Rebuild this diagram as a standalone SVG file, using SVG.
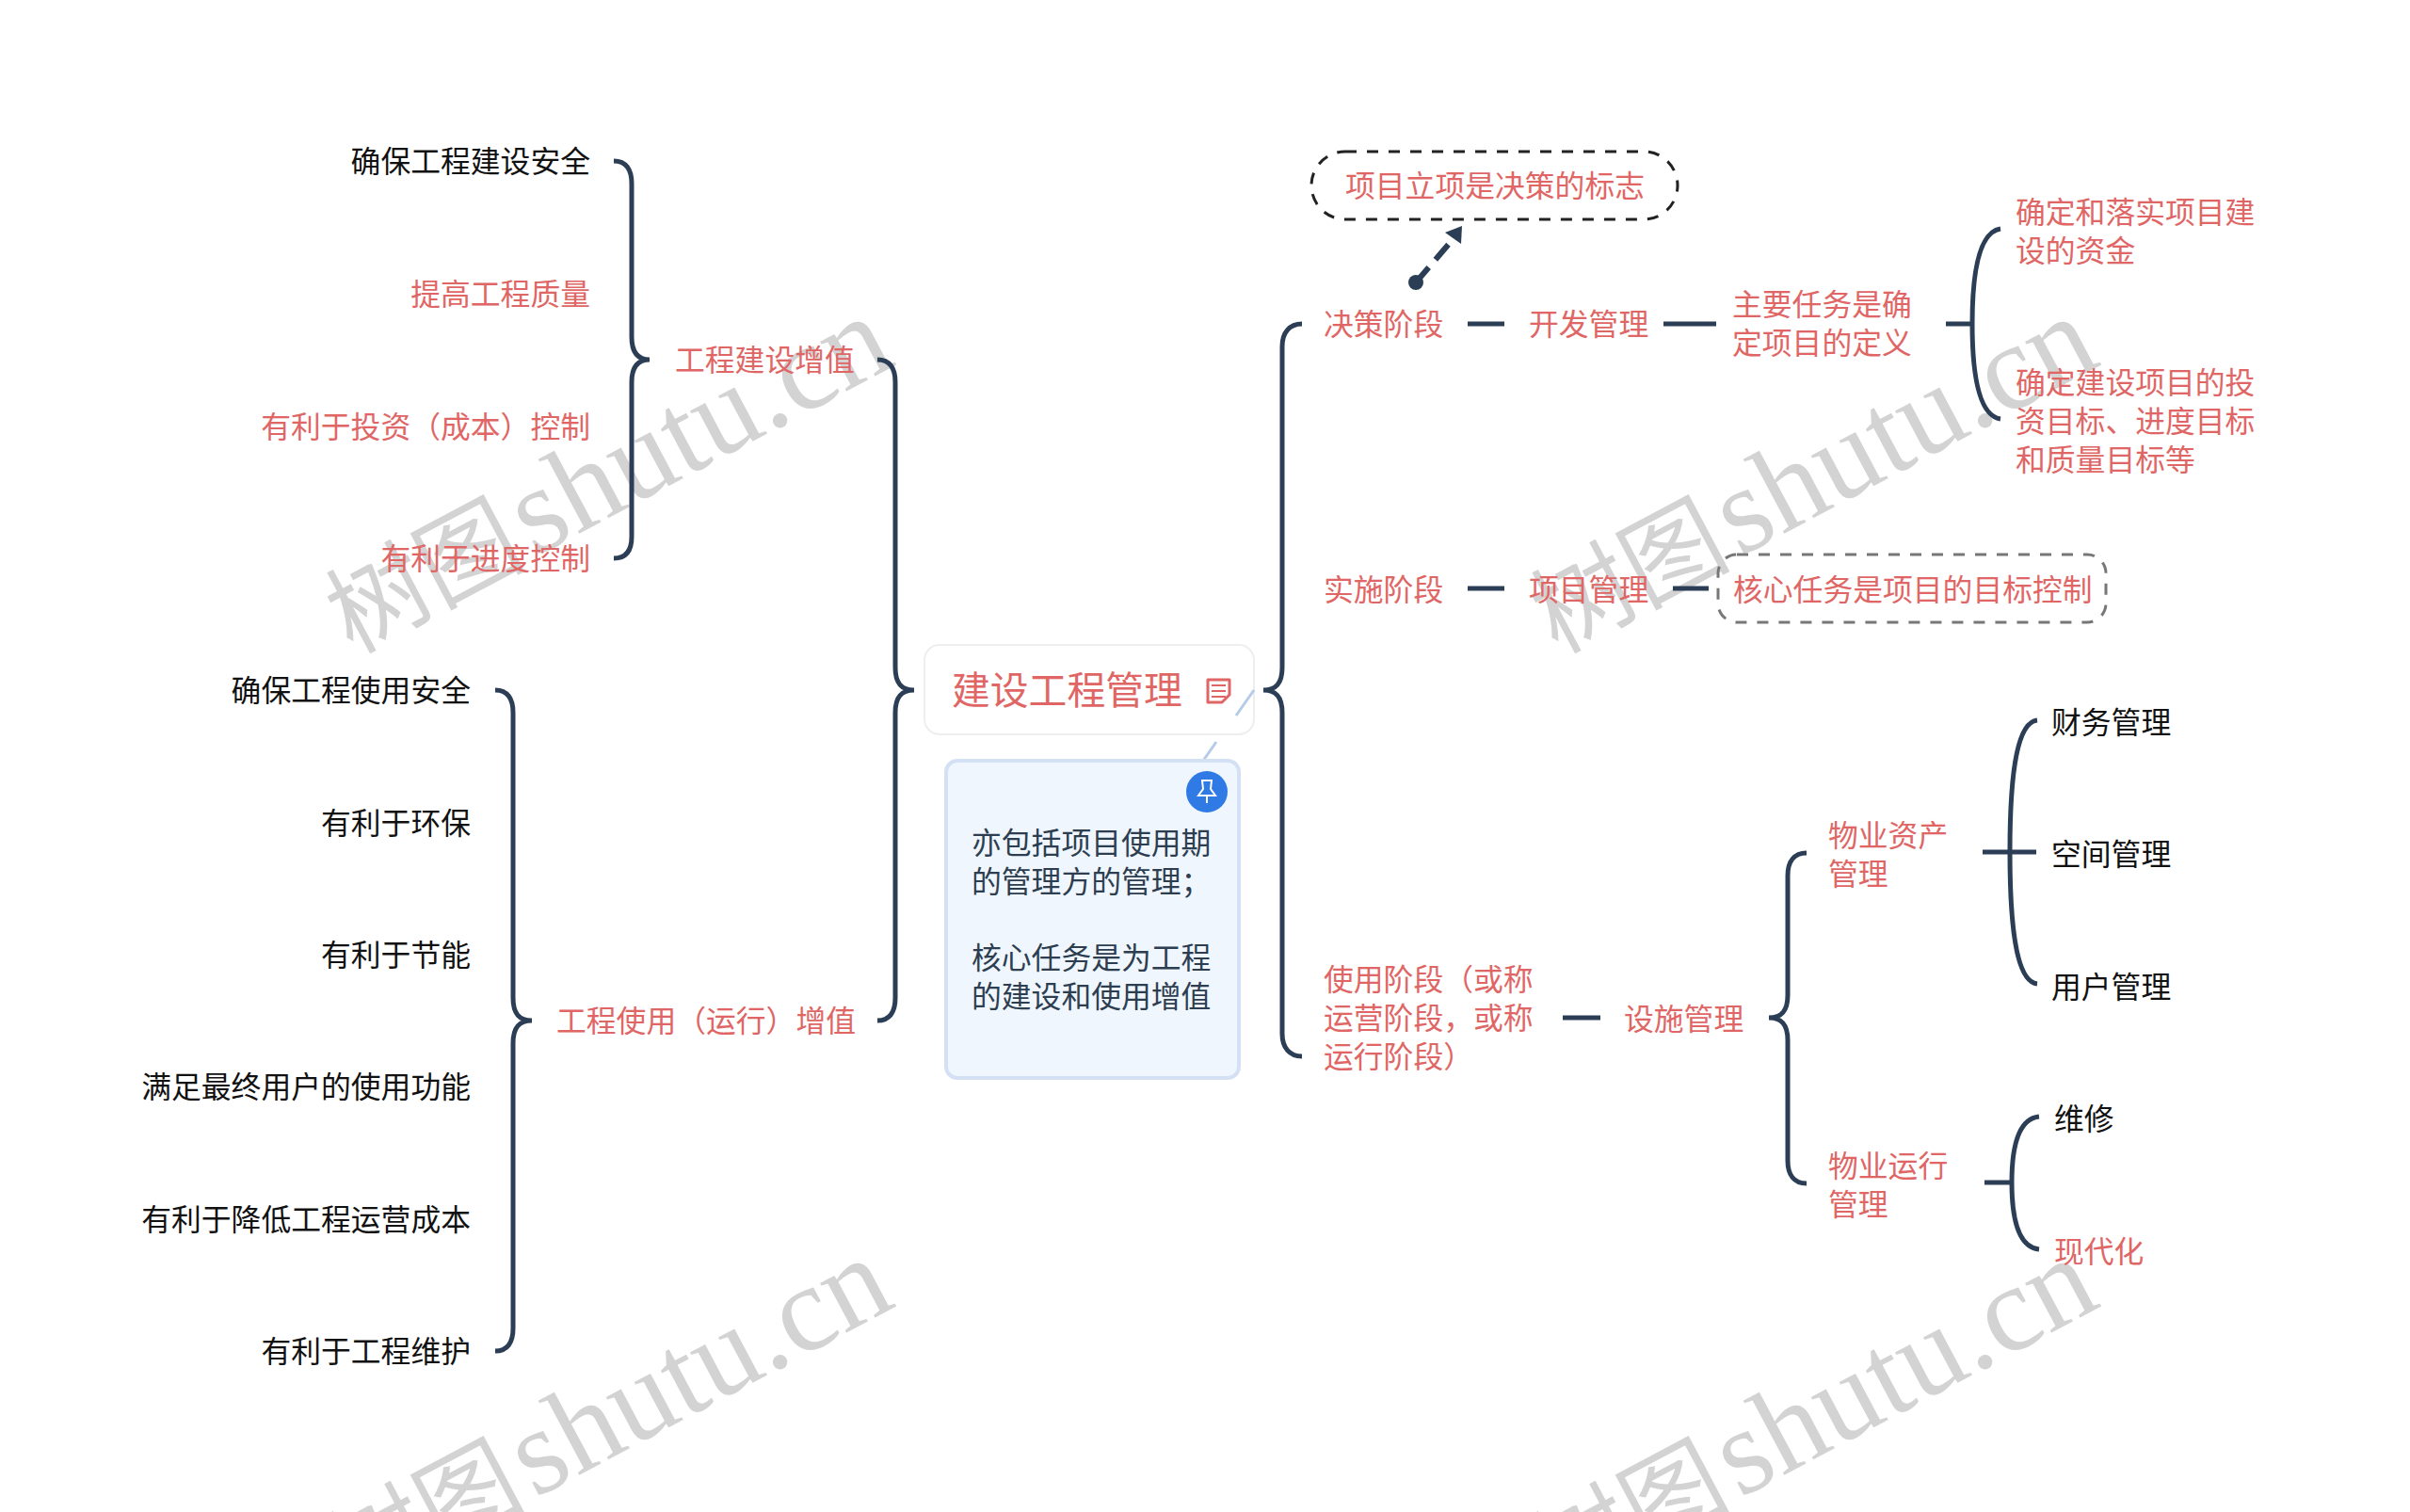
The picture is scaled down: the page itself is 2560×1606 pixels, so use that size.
<svg xmlns="http://www.w3.org/2000/svg" width="2560" height="1606" viewBox="0 0 2560 1606">
<style>
text{font-family:"Noto Sans CJK SC","Noto Sans",sans-serif;font-size:31.8px;dominant-baseline:central}
.r{fill:#e06666}.k{fill:#111}.d{fill:#2c3e50}.e{text-anchor:end}
.c{fill:none;stroke:#2c3e55;stroke-width:5}
text.wm{font-family:"Noto Sans CJK SC",sans-serif;font-size:106px;fill:#d3d3d3;dominant-baseline:auto}
.wl{font-family:"Liberation Serif",serif;font-size:130px}
</style>
<rect width="2560" height="1606" fill="#fff"/>
<g id="watermarks">
<text class="wm" transform="translate(374 695) rotate(-28)">树图<tspan class="wl" dx="8">shutu.cn</tspan></text>
<text class="wm" transform="translate(1654 695) rotate(-28)">树图<tspan class="wl" dx="8">shutu.cn</tspan></text>
<text class="wm" transform="translate(374 1695) rotate(-28)">树图<tspan class="wl" dx="8">shutu.cn</tspan></text>
<text class="wm" transform="translate(1654 1695) rotate(-28)">树图<tspan class="wl" dx="8">shutu.cn</tspan></text>
</g>
<g id="connectors">
<path class="c" d="M652 171C665 171 671 180 671 195L671 358C671 374 677 382 690 382C677 382 671 390 671 406L671 570C671 585 665 593 652 593"/>
<path class="c" d="M932 382C945 382 951 391 951 406L951 709C951 725 957 733 971 733C957 733 951 741 951 757L951 1060C951 1075 945 1084 932 1084"/>
<path class="c" d="M526 733C539 733 545 742 545 757L545 1060C545 1076 551 1084 565 1084C551 1084 545 1092 545 1108L545 1411C545 1426 539 1435 526 1435"/>
<path class="c" d="M1383 344C1370 344 1362 353 1362 368L1362 709C1362 725 1356 733 1342 733C1356 733 1362 741 1362 757L1362 1098C1362 1113 1370 1122 1383 1122"/>
<path class="c" d="M1559 344H1598M1767 344H1823M1559 625H1598M1777 625H1815M1660 1081H1700"/>
<path class="c" d="M2067 344H2095"/>
<path class="c" d="M2125 243C2105 246 2095 280 2095 344C2095 408 2105 442 2125 445"/>
<path class="c" d="M1919 906C1906 906 1899 915 1899 930L1899 1057C1899 1073 1893 1081 1879 1081C1893 1081 1899 1089 1899 1105L1899 1233C1899 1248 1906 1257 1919 1257"/>
<path class="c" d="M2106 905H2163"/>
<path class="c" d="M2164 765C2145 767 2135 810 2135 905C2135 1000 2145 1043 2164 1045"/>
<path class="c" d="M2108 1256H2137"/>
<path class="c" d="M2166 1186C2147 1188 2137 1210 2137 1256C2137 1302 2147 1325 2166 1327"/>
<circle cx="1504" cy="300" r="8" fill="#2c3e55"/>
<path class="c" d="M1504 300L1546 251" stroke-dasharray="21 11" style="stroke-width:6"/>
<path d="M1553 240L1535 247L1552 259Z" fill="#2c3e55"/>
</g>
<g id="root">
<rect x="982" y="685" width="350" height="95" rx="16" fill="#fff" stroke="#eeeeee" stroke-width="2"/>
<text x="1011" y="730" class="r" style="font-size:40.8px">建设工程管理</text>
<path d="M1283 722H1306V738L1298 746H1283Z" fill="none" stroke="#e06666" stroke-width="3" stroke-linejoin="round"/>
<path d="M1287 728H1302M1287 734H1302M1287 740H1302" fill="none" stroke="#e06666" stroke-width="2"/>
</g>
<g id="note">
<path d="M1332 733L1313 760M1292 788L1278 808" fill="none" stroke="#b5cbe8" stroke-width="3"/>
<rect x="1005" y="808" width="311" height="337" rx="12" fill="#f0f6fe" stroke="#d4e1f4" stroke-width="4"/>
<circle cx="1282" cy="841" r="22" fill="#2f7ae5"/>
<path d="M1277 829H1287L1286 838L1291 845H1273L1278 838Z" fill="none" stroke="#fff" stroke-width="2"/>
<path d="M1282 845V853" stroke="#fff" stroke-width="2"/>
<text x="1032" y="893" class="d">亦包括项目使用期</text>
<text x="1032" y="934" class="d">的管理方的管理；</text>
<text x="1032" y="1015" class="d">核心任务是为工程</text>
<text x="1032" y="1056" class="d">的建设和使用增值</text>
</g>
<g id="left-a">
<text x="627" y="169" class="k e">确保工程建设安全</text>
<text x="627" y="310" class="r e">提高工程质量</text>
<text x="627" y="451" class="r e">有利于投资（成本）控制</text>
<text x="627" y="591" class="r e">有利于进度控制</text>
<text x="717" y="380" class="r">工程建设增值</text>
</g>
<g id="left-b">
<text x="500" y="731" class="k e">确保工程使用安全</text>
<text x="500" y="872" class="k e">有利于环保</text>
<text x="500" y="1012" class="k e">有利于节能</text>
<text x="500" y="1152" class="k e">满足最终用户的使用功能</text>
<text x="500" y="1293" class="k e">有利于降低工程运营成本</text>
<text x="500" y="1433" class="k e">有利于工程维护</text>
<text x="591" y="1082" class="r">工程使用（运行）增值</text>
</g>
<g id="decision">
<text x="1406" y="342" class="r">决策阶段</text>
<text x="1624" y="342" class="r">开发管理</text>
<text x="1840" y="321" class="r">主要任务是确</text>
<text x="1840" y="362" class="r">定项目的定义</text>
<text x="2141" y="223" class="r">确定和落实项目建</text>
<text x="2141" y="264" class="r">设的资金</text>
<text x="2141" y="404" class="r">确定建设项目的投</text>
<text x="2141" y="445" class="r">资目标、进度目标</text>
<text x="2141" y="486" class="r">和质量目标等</text>
<rect x="1393" y="161" width="389" height="72" rx="36" fill="none" stroke="#222" stroke-width="3" stroke-dasharray="12 11"/>
<text x="1429" y="195" class="r">项目立项是决策的标志</text>
</g>
<g id="implementation">
<text x="1406" y="624" class="r">实施阶段</text>
<text x="1624" y="624" class="r">项目管理</text>
<rect x="1825" y="589" width="412" height="72" rx="20" fill="none" stroke="#777" stroke-width="3" stroke-dasharray="12 11"/>
<text x="1841" y="624" class="r">核心任务是项目的目标控制</text>
</g>
<g id="operation">
<text x="1406" y="1038" class="r">使用阶段（或称</text>
<text x="1406" y="1079" class="r">运营阶段，或称</text>
<text x="1406" y="1120" class="r">运行阶段）</text>
<text x="1725" y="1080" class="r">设施管理</text>
<text x="1942" y="885" class="r">物业资产</text>
<text x="1942" y="926" class="r">管理</text>
<text x="1942" y="1236" class="r">物业运行</text>
<text x="1942" y="1277" class="r">管理</text>
<text x="2179" y="765" class="k">财务管理</text>
<text x="2179" y="905" class="k">空间管理</text>
<text x="2179" y="1046" class="k">用户管理</text>
<text x="2182" y="1186" class="k">维修</text>
<text x="2182" y="1327" class="r">现代化</text>
</g>
</svg>
